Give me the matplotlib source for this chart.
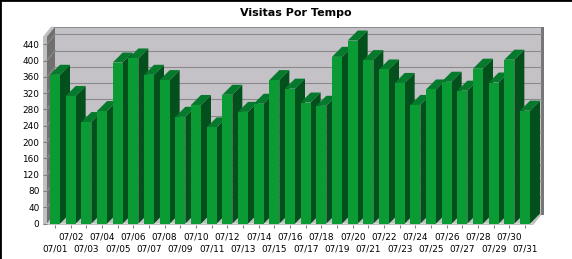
import matplotlib.pyplot as plt
from matplotlib.patches import Polygon
from matplotlib.lines import Line2D

# dados
days = ["07/01", "07/02", "07/03", "07/04", "07/05", "07/06", "07/07", "07/08",
        "07/09", "07/10", "07/11", "07/12", "07/13", "07/14", "07/15", "07/16",
        "07/17", "07/18", "07/19", "07/20", "07/21", "07/22", "07/23", "07/24",
        "07/25", "07/26", "07/27", "07/28", "07/29", "07/30", "07/31"]
visits = [365, 313, 249, 276, 395, 405, 365, 352, 262, 291, 236, 316, 274, 294,
          352, 331, 297, 289, 409, 449, 401, 378, 345, 291, 329, 348, 326, 380,
          346, 402, 277]
yticks = list(range(0, 441, 40))

W, H = 572, 259
fig = plt.figure(figsize=(W / 100, H / 100), dpi=100)
fig.patch.set_facecolor("white")

# front plane of the 3D box (pixels)
left, right, bottom, top = 47, 533, 225, 36.7
ax = fig.add_axes([left / W, (H - bottom) / H, (right - left) / W, (bottom - top) / H])
xl, xr = -0.51, 30.51
ylo, yhi = -3.4, 458.4
ax.set_xlim(xl, xr)
ax.set_ylim(ylo, yhi)
ax.set_facecolor("none")
for s in ax.spines.values():
    s.set_visible(False)

sx = (right - left) / (xr - xl)        # px per x unit
sy = (bottom - top) / (yhi - ylo)      # px per y unit
wdx, wdy = 8 / sx, 10 / sy             # wall depth
bdx, bdy = 10 / sx, 10 / sy            # bar depth
bw = 10 / sx                           # bar width

def poly(pts, fc, z, ec="none", lw=0):
    p = Polygon(pts, closed=True, facecolor=fc, edgecolor=ec, linewidth=lw,
                zorder=z, clip_on=False)
    ax.add_patch(p)

# walls and floor
rim = 4 / sx
poly([(xl - rim, ylo), (xl - rim, yhi), (xl - rim + wdx, yhi + wdy),
      (xl + wdx, yhi + wdy), (xl, 0)], "#c0c0c0", 0.5)
poly([(xl, 0), (xl + wdx, wdy), (xl + wdx, yhi + wdy), (xl, yhi)], "#707070", 0.6)
poly([(xl + wdx, wdy), (xr + wdx, wdy), (xr + wdx, yhi + wdy), (xl + wdx, yhi + wdy)],
     "#c4c2c7", 0.6)
poly([(xl + wdx, yhi + wdy - 1.3 / sy), (xr + wdx, yhi + wdy - 1.3 / sy),
      (xr + wdx, yhi + wdy), (xl + wdx, yhi + wdy)], "#8c8c8c", 0.62)
poly([(xr + wdx, wdy + ylo), (xr + wdx + 3 / sx, wdy + ylo),
      (xr + wdx + 3 / sx, yhi + wdy), (xr + wdx, yhi + wdy)], "#777777", 0.62)
poly([(xl, 0), (xr, 0), (xr + wdx, wdy), (xl + wdx, wdy)], "#c0c0c0", 0.7)
poly([(xl, ylo), (xr, ylo), (xr, 0), (xl, 0)], "#c0c0c0", 0.7)
poly([(xr, ylo), (xr, 0), (xr + wdx, wdy), (xr + wdx, wdy + ylo)], "#a8a8a8", 0.7)

for v in yticks[1:]:
    ax.add_line(Line2D([xl + wdx, xr + wdx], [v + wdy, v + wdy], color="#8a8a8a",
                       lw=0.8, zorder=0.65, clip_on=False))
    ax.add_line(Line2D([xl, xl + wdx], [v, v + wdy], color="#8a8a8a",
                       lw=0.8, zorder=0.65, clip_on=False))

# bars
x = list(range(len(visits)))
bars = ax.bar(x, visits, width=bw, color="#0b9b35", linewidth=0)
for i, (b, v) in enumerate(zip(bars, visits)):
    xr0 = i + bw / 2
    xl0 = i - bw / 2
    poly([(xr0, 0), (xr0 + bdx, bdy), (xr0 + bdx, v + bdy), (xr0, v)],
         "#03501c", 2 + 0.03 * i)
    poly([(xl0, v), (xr0, v), (xr0 + bdx, v + bdy), (xl0 + bdx, v + bdy)],
         "#067a2c", 2.01 + 0.03 * i)
    b.set_zorder(2.02 + 0.03 * i)

# axes ticks
ax.set_yticks(yticks)
ax.set_yticklabels([str(v) for v in yticks])
ax.tick_params(axis="y", length=3.1, width=0.8, color="#808080", pad=2.4,
               labelsize=6.4, labelcolor="black")
ax.set_xticks(x[1::2])
ax.set_xticklabels(days[1::2])
ax.set_xticks(x[0::2], minor=True)
ax.set_xticklabels(days[0::2], minor=True)
ax.tick_params(axis="x", which="major", length=2.2, width=0.8, color="#808080",
               pad=3.2, labelsize=6.4)
ax.tick_params(axis="x", which="minor", length=2.2, width=0.8, color="#808080",
               pad=12.2, labelsize=6.4)

fig.text(296 / W, (H - 13) / H, "Visitas Por Tempo", ha="center", va="center",
         fontsize=8, fontweight="bold")

# black frame at top and left
fig.add_artist(Line2D([0, 1], [1, 1], transform=fig.transFigure, color="black", lw=2))
fig.add_artist(Line2D([0, 0], [0, 1], transform=fig.transFigure, color="black", lw=2))

fig.savefig("out.png", dpi=100)
